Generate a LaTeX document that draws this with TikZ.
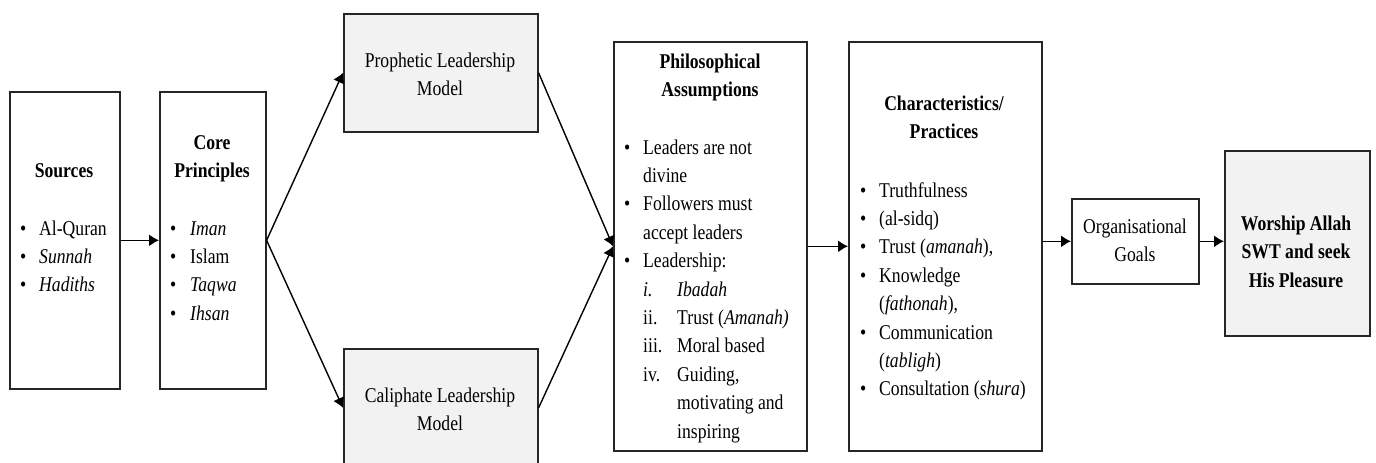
\documentclass[tikz,border=0pt]{standalone}
\usepackage{fontspec}
\setmainfont{Liberation Serif}[FakeStretch=0.84]
\usetikzlibrary{arrows.meta}

\begin{document}
\begin{tikzpicture}[x=1pt,y=-1pt,
                        box/.style={draw=black!85, line width=1.6pt, inner sep=0pt, anchor=north west},
                        shaded/.style={box, fill=black!5},
                        txt/.style={inner sep=0pt, anchor=base west, font=\fontsize{21}{28.4}\selectfont},
                        ctr/.style={txt, anchor=base},
                        head/.style={ctr, font=\fontsize{21}{28.6}\selectfont\bfseries},
                        link/.style={-{Latex[length=10pt,width=12pt]}, line width=1.4pt}]
                        \useasboundingbox (0,0) rectangle (1376,463);
                        % boxes
                        \node [box, minimum width=110pt, minimum height=297pt] (src) at (9,91) {};
                        \node [box, minimum width=106pt, minimum height=297pt] (core) at (159,91) {};
                        \node [shaded, minimum width=194pt, minimum height=118pt] (pro) at (343,13) {};
                        \node [shaded, minimum width=194pt, minimum height=118pt] (cal) at (343,348) {};
                        \node [box, minimum width=193pt, minimum height=409pt] (phil) at (613,41) {};
                        \node [box, minimum width=193pt, minimum height=409pt] (char) at (848,41) {};
                        \node [box, minimum width=127pt, minimum height=85pt] (org) at (1071,198) {};
                        \node [shaded, minimum width=145pt, minimum height=185pt] (wor) at (1224,150) {};
                        % texts
                        \node [head] (srcH) at (64,177) {Sources};
                        \node [txt] (srcL) at (20,235) {\begin{tabular}[t]{@{}p{19pt}@{}l@{}}
                            \textbullet & Al-Quran\\ \textbullet & \textit{Sunnah}\\ \textbullet & \textit{Hadiths}
                        \end{tabular}};
                        \node [head] (coreH) at (212,149) {\begin{tabular}[t]{@{}c@{}}Core\\Principles\end{tabular}};
                        \node [txt] (coreL) at (170,235) {\begin{tabular}[t]{@{}p{20pt}@{}l@{}}
                            \textbullet & \textit{Iman}\\ \textbullet & Islam\\ \textbullet & \textit{Taqwa}\\ \textbullet & \textit{Ihsan}
                        \end{tabular}};
                        \node [ctr] (proT) at (440,67) {\begin{tabular}[t]{@{}c@{}}Prophetic Leadership\\Model\end{tabular}};
                        \node [ctr] (calT) at (440,402) {\begin{tabular}[t]{@{}c@{}}Caliphate Leadership\\Model\end{tabular}};
                        \node [head] (philH) at (710,68) {\begin{tabular}[t]{@{}c@{}}Philosophical\\Assumptions\end{tabular}};
                        \node [txt] (philL) at (624,154) {\begin{tabular}[t]{@{}p{19pt}@{}l@{}}
                            \textbullet & Leaders are not\\ & divine\\
                            \textbullet & Followers must\\ & accept leaders\\
                            \textbullet & Leadership:\\
                            & \makebox[34pt][l]{\textit{i.}}\textit{Ibadah}\\
                            & \makebox[34pt][l]{ii.}Trust (\textit{Amanah)}\\
                            & \makebox[34pt][l]{iii.}Moral based\\
                            & \makebox[34pt][l]{iv.}Guiding,\\
                            & \hspace{34pt}motivating and\\
                            & \hspace{34pt}inspiring
                        \end{tabular}};
                        \node [head] (charH) at (944,110) {\begin{tabular}[t]{@{}c@{}}Characteristics/\\Practices\end{tabular}};
                        \node [txt] (charL) at (860,197) {\begin{tabular}[t]{@{}p{19pt}@{}l@{}}
                            \textbullet & Truthfulness\\ \textbullet & (al-sidq)\\
                            \textbullet & Trust (\textit{amanah}),\\
                            \textbullet & Knowledge\\ & (\textit{fathonah}),\\
                            \textbullet & Communication\\ & (\textit{tabligh})\\
                            \textbullet & Consultation (\textit{shura})
                        \end{tabular}};
                        \node [ctr] (orgT) at (1135,233) {\begin{tabular}[t]{@{}c@{}}Organisational\\Goals\end{tabular}};
                        \node [head] (worT) at (1296,230) {\begin{tabular}[t]{@{}c@{}}Worship Allah\\SWT and seek\\His Pleasure\end{tabular}};
                        % arrows
                        \draw [link] (src) -- (core);
                        \draw [link] (core.east) -- (pro.west);
                        \draw [link] (core.east) -- (cal.west);
                        \draw [link] (pro.east) -- (phil.west);
                        \draw [link] (cal.east) -- (phil.west);
                        \draw [link] (phil) -- (char);
                        \draw [link] (org.west -| char.east) -- (org.west);
                        \draw [link] (org.east) -- (org.east -| wor.west);
                \end{tikzpicture}
\end{document}
